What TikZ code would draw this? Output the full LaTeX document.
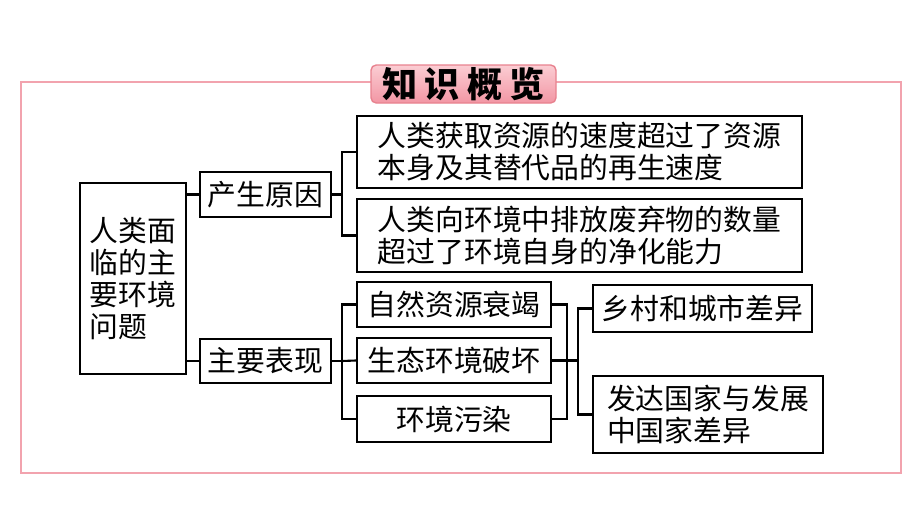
\documentclass[tikz,border=0pt]{standalone}
\usepackage{fontspec}
\newfontfamily\cjk{Noto Sans CJK SC}
\usetikzlibrary{calc}
\definecolor{framepink}{HTML}{F2A3AE}
\definecolor{badgeline}{HTML}{E8828F}
\definecolor{badgetop}{HTML}{FBCDD3}
\definecolor{badgebot}{HTML}{F296A4}
\begin{document}
\begin{tikzpicture}[x=0.02cm,y=-0.02cm,
  box/.style={draw=black,line width=1.2pt,inner sep=0pt,align=left,
    font=\cjk\fontsize{16.4pt}{18.2pt}\selectfont},
  conn/.style={draw=black,line width=1.2pt},
  badge/.style={draw=badgeline,line width=0.8pt,rounded corners=3pt,top color=badgetop,bottom color=badgebot,inner sep=0pt}]
\useasboundingbox[fill=white] (0,0) rectangle (920,518);
% outer frame
\draw[framepink,line width=1.3pt] (21,82) rectangle (901,473);
% title badge
\node[badge,minimum width=185*0.02cm,minimum height=38*0.02cm] (title) at (463.5,84)
  {\cjk\bfseries\fontsize{20pt}{22pt}\selectfont 知\hspace{4.2pt}识\hspace{4.2pt}概\hspace{4.2pt}览};
% nodes
\node[box,minimum width=106*0.02cm,minimum height=191*0.02cm] (lbox) at (133,278.5) {人类面\\临的主\\要环境\\问题};
\node[box,minimum width=131*0.02cm,minimum height=45*0.02cm] (cause) at (265.5,194.5) {产生原因};
\node[box,minimum width=131*0.02cm,minimum height=44*0.02cm] (show) at (265.5,361) {主要表现};
\node[box,minimum width=445*0.02cm,minimum height=72*0.02cm] (r1) at (579.5,152) {人类获取资源的速度超过了资源\\本身及其替代品的再生速度};
\node[box,minimum width=445*0.02cm,minimum height=73*0.02cm] (r2) at (579.5,235.5) {人类向环境中排放废弃物的数量\\超过了环境自身的净化能力};
\node[box,minimum width=194*0.02cm,minimum height=45*0.02cm] (b1) at (454,304.5) {自然资源衰竭};
\node[box,minimum width=194*0.02cm,minimum height=45*0.02cm] (b2) at (454,360.5) {生态环境破坏};
\node[box,minimum width=194*0.02cm,minimum height=46*0.02cm] (b3) at (454,419) {环境污染};
\node[box,minimum width=219*0.02cm,minimum height=47*0.02cm] (c1) at (702.5,308.5) {乡村和城市差异};
\node[box,minimum width=230*0.02cm,minimum height=77*0.02cm] (c2) at (708,414.5) {发达国家与发展\\中国家差异};
% junctions
\coordinate (j1) at (342,194.5);
\coordinate (j2) at (342,361);
\coordinate (j3) at (567,360.5);
\coordinate (j4) at (578,360.5);
% connectors
\draw[conn] (lbox.east |- cause.west) -- (cause.west);
\draw[conn] (lbox.east |- show.west) -- (show.west);
\draw[conn] (cause.east) -- (j1);
\draw[conn] (r1.west) -- (r1.west -| j1) -- (r2.west -| j1) -- (r2.west);
\draw[conn] (show.east) -- (j2);
\draw[conn] (b1.west) -- (b1.west -| j2) -- (b3.west -| j2) -- (b3.west);
\draw[conn] (j2) -- (b2.west);
\draw[conn] (b1.east) -- (b1.east -| j3) -- (b3.east -| j3) -- (b3.east);
\draw[conn] (b2.east) -- (j3) -- (j4);
\draw[conn] (c1.west) -- (c1.west -| j4) -- (c2.west -| j4) -- (c2.west);
\end{tikzpicture}
\end{document}
